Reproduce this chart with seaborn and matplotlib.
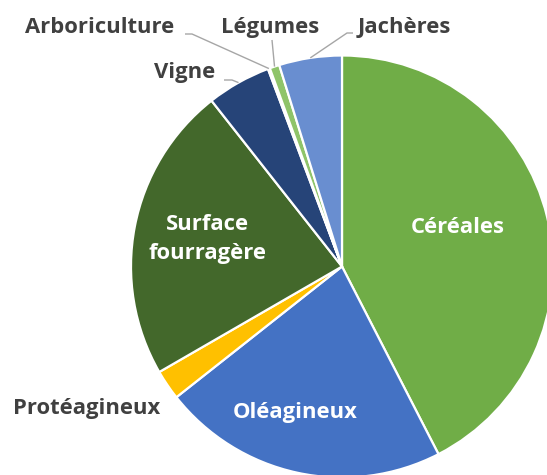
import matplotlib
matplotlib.use("Agg")
import matplotlib.pyplot as plt
import seaborn as sns
import numpy as np

# ---------- DATA ----------
labels = ["Céréales", "Oléagineux", "Protéagineux", "Surface\nfourragère",
          "Vigne", "Arboriculture", "Légumes", "Jachères"]
shares = [42.4, 21.9, 2.3, 22.7, 4.9, 0.15, 0.75, 4.8]
colors = ["#70AD47", "#4472C4", "#FFC000", "#43682B",
          "#264478", "#C55A11", "#8FC46A", "#698ED0"]

sns.set_theme(style="white")
plt.rcParams["font.family"] = ["Open Sans", "DejaVu Sans"]

fig = plt.figure(figsize=(5.47, 4.75), dpi=100)
ax = fig.add_axes([0, 0, 1, 1])

wedges, _ = ax.pie(shares, colors=colors, startangle=90, counterclock=False,
                   radius=1, wedgeprops=dict(edgecolor="white", linewidth=1.6))

ax.set_xlim(-342 / 211, 205 / 211)
ax.set_ylim(-208.5 / 211, 266.5 / 211)
ax.set_aspect("equal")
ax.axis("off")


def px(x, y):
    # pixel position in the reference -> data coords
    return ((x - 342) / 211, (266.5 - y) / 211)


def edge_point(i, r=1.0):
    w = wedges[i]
    a = np.deg2rad((w.theta1 + w.theta2) / 2)
    return (r * np.cos(a), r * np.sin(a))


FS = 15.8

# ---------- LABELS INSIDE ----------
ax.text(*px(458, 233), labels[0], color="white", fontsize=FS, fontweight="bold",
        ha="center", va="baseline")
ax.text(*px(295, 418), labels[1], color="white", fontsize=FS, fontweight="bold",
        ha="center", va="baseline")
ax.text(*px(207, 239), labels[3], color="white", fontsize=FS, fontweight="bold",
        ha="center", va="center", linespacing=1.5)

# ---------- LABELS OUTSIDE ----------
dark = "#404040"
ax.text(*px(87, 414), labels[2], color=dark, fontsize=FS, fontweight="bold",
        ha="center", va="baseline")

outside = {
    4: ((185, 78), (224, 80), (232, 80)),
    5: ((100, 33), (185, 34), (192, 34)),
    6: ((270, 33), (272, 40), (272, 40)),
    7: ((404, 33), (353, 33), (347, 33)),
}
for i, (tpos, start, knee) in outside.items():
    ax.text(*px(*tpos), labels[i], color=dark, fontsize=FS, fontweight="bold",
            ha="center", va="baseline")
    end = edge_point(i, 1.0)
    ax.plot([px(*start)[0], px(*knee)[0], end[0]],
            [px(*start)[1], px(*knee)[1], end[1]],
            color="#A6A6A6", lw=1, solid_capstyle="butt")

fig.savefig("out.png", dpi=100, facecolor="white")
